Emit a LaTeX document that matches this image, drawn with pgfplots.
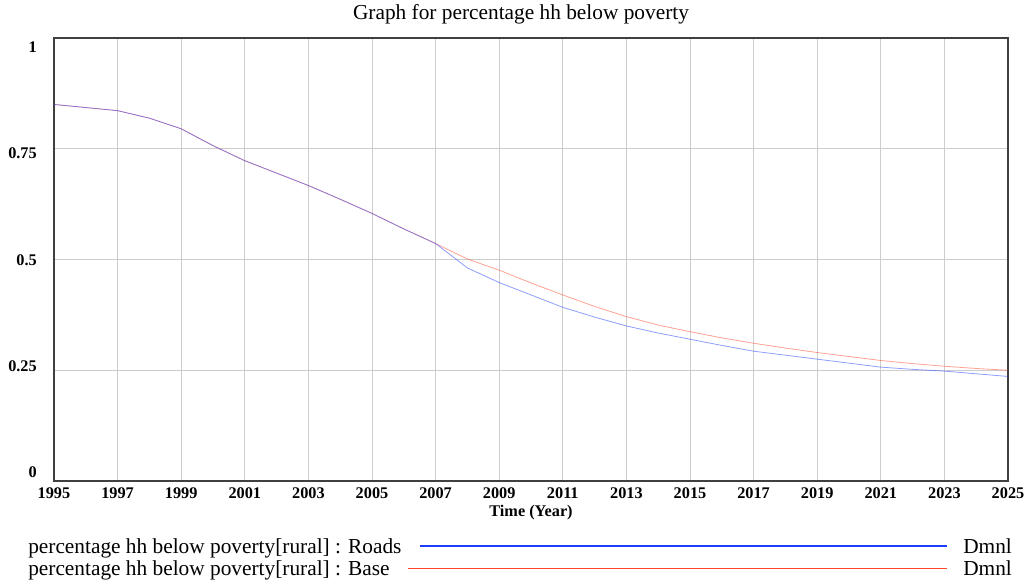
\documentclass[border=0pt]{standalone}
\usepackage{fontspec}
\setmainfont{Liberation Serif}
\usepackage{pgfplots}
\pgfplotsset{compat=1.18}
\usepackage{pgfplotstable}

\definecolor{roadsblue}{RGB}{30,60,255}
\definecolor{basered}{RGB}{255,70,40}
\definecolor{gridgray}{RGB}{205,205,205}

% percentage of rural households below poverty, yearly values
\pgfplotstableread{
year  roads  base
1995  0.850  0.850
1996  0.843  0.843
1997  0.836  0.836
1998  0.819  0.819
1999  0.795  0.795
2000  0.757  0.757
2001  0.723  0.723
2002  0.695  0.695
2003  0.667  0.667
2004  0.636  0.636
2005  0.604  0.604
2006  0.569  0.569
2007  0.536  0.536
2008  0.481  0.501
2009  0.448  0.476
2010  0.420  0.447
2011  0.392  0.420
2012  0.370  0.394
2013  0.350  0.371
2014  0.334  0.352
2015  0.320  0.337
2016  0.306  0.323
2017  0.293  0.311
2018  0.284  0.300
2019  0.275  0.290
2020  0.266  0.281
2021  0.257  0.272
2022  0.252  0.265
2023  0.248  0.259
2024  0.242  0.254
2025  0.236  0.250
}\povertydata

\newcommand\ticklabelfont{\bfseries\fontsize{12.2}{14}\selectfont}
\newcommand\keyfont{\fontsize{16}{19}\selectfont}

\begin{document}
\begin{tikzpicture}
\useasboundingbox (0,0) rectangle (771.75pt,438.75pt);

\begin{axis}[
  at={(40.5pt,78pt)}, anchor=south west,
  scale only axis,
  width=715.5pt, height=332.25pt,
  xmin=1995, xmax=2025, ymin=0, ymax=1,
  xtick={1995,1997,...,2025},
  ytick={0,0.25,0.5,0.75,1},
  yticklabels={\raisebox{6.75pt}{0},\raisebox{3.4pt}{0.25},0.5,\raisebox{-3.4pt}{0.75},\raisebox{-6.75pt}{1}},
  /pgf/number format/.cd, 1000 sep={}, assume math mode=true, /pgfplots/.cd,
  major tick length=0pt,
  grid=major,
  major grid style={gridgray, line width=0.75pt},
  axis line style={black!75, line width=0.9pt},
  xticklabel style={font=\ticklabelfont, anchor=base, inner sep=0pt, yshift=-13.5pt},
  yticklabel style={font=\ticklabelfont, anchor=base east, inner sep=0pt, xshift=-12.75pt, yshift=-4.2pt},
  xlabel={Time (Year)},
  xlabel style={font=\ticklabelfont, at={(axis description cs:0.5,0)}, anchor=base, inner sep=0pt, yshift=-27pt},
]
\addplot[basered, line width=0.6pt, opacity=0.5] table[x=year, y=base] {\povertydata};
\addplot[roadsblue, line width=0.6pt, opacity=0.5] table[x=year, y=roads] {\povertydata};
\end{axis}

% title
\node[anchor=base, font=\keyfont, inner sep=0pt] at (390.75pt,423.75pt) {Graph for percentage hh below poverty};

% series key below the plot
\node[anchor=base west, font=\keyfont, inner sep=0pt] (kr) at (21pt,23.25pt) {percentage hh below poverty[rural] : Roads};
\node[anchor=base west, font=\keyfont, inner sep=0pt] (kb) at (21pt,7pt) {percentage hh below poverty[rural] : Base};
\draw[roadsblue, line width=0.9pt] ([xshift=13.5pt]kr.base east |- 0,29.25pt) -- (710.6pt,29.25pt);
\draw[basered, line width=0.9pt] ([xshift=13.5pt]kb.base east |- 0,12.4pt) -- (710.6pt,12.4pt);
\node[anchor=base west, font=\keyfont, inner sep=0pt] at (722.25pt,23.25pt) {Dmnl};
\node[anchor=base west, font=\keyfont, inner sep=0pt] at (722.25pt,7pt) {Dmnl};
\end{tikzpicture}
\end{document}
